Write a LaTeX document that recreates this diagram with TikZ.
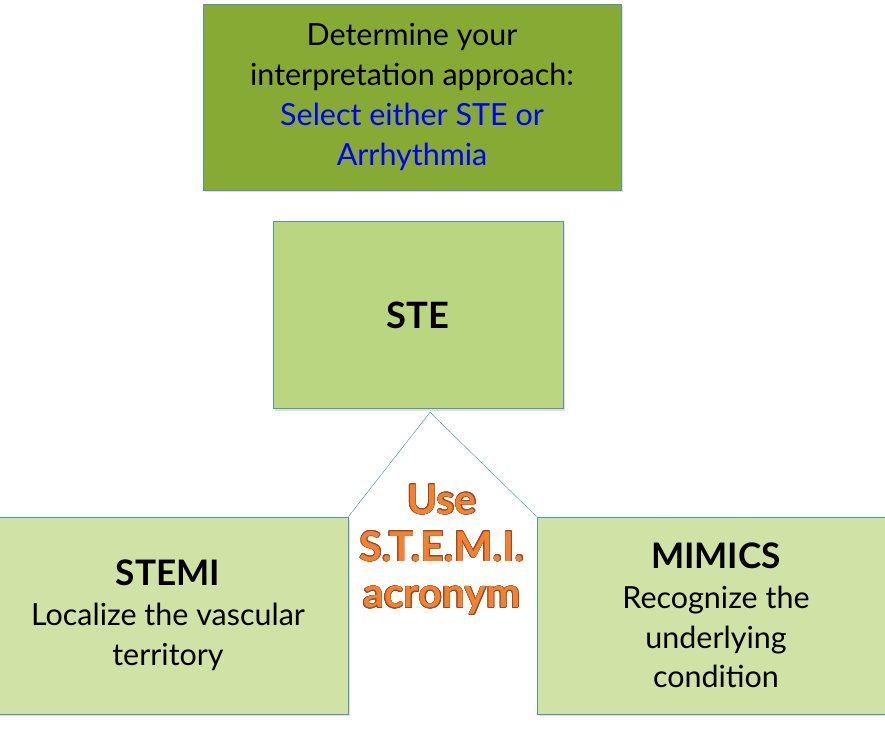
\documentclass[tikz,border=0pt]{standalone}
\usepackage{fontspec}
\setmainfont{Lato}
\usepackage{contour}
\contourlength{0.5pt}
\usetikzlibrary{shadows}
\definecolor{olivebox}{RGB}{134,170,52}
\definecolor{stebox}{RGB}{187,214,128}
\definecolor{palebox}{RGB}{208,226,166}
\definecolor{edgeblue}{RGB}{80,150,175}
\definecolor{acrorange}{RGB}{242,130,50}
\definecolor{acroedge}{RGB}{150,75,35}
\newcommand{\acroline}[1]{\contour{acroedge}{\textcolor{acrorange}{#1}}}
\begin{document}
\begin{tikzpicture}[x=0.03cm, y=-0.03cm,
    box/.style={rectangle, draw=edgeblue, thick, align=center, inner sep=0pt,
        drop shadow={shadow xshift=2pt, shadow yshift=-2pt, opacity=0.25}},
    txt/.style={font=\fontsize{26}{34}\selectfont},
    head/.style={font=\fontsize{30}{34}\selectfont\bfseries}]
        \useasboundingbox (0,0) rectangle (885,733);
        \clip (0,0) rectangle (885,733);
        % --- top choice ---
        \node (detbox) at (412,97) [box, fill=olivebox, minimum width=12.54cm, minimum height=5.58cm, txt]
            {Determine your\\interpretation approach:\\\textcolor{blue}{Select either STE or}\\\textcolor{blue}{Arrhythmia}};
        % --- STE ---
        \node (ste) at (418,315) [box, fill=stebox, minimum width=8.7cm, minimum height=5.61cm, font=\fontsize{31}{34}\selectfont\bfseries] {STE};
        \coordinate (apex) at ([xshift=0.36cm, yshift=-0.1cm]ste.south);
        % --- branches ---
        \node (stemi) at (168,615.5) [box, fill=palebox, minimum width=10.8cm, minimum height=5.91cm, txt]
            {{\bfseries\fontsize{30}{34}\selectfont STEMI}\\Localize the vascular\\territory};
        \node (mimics) at (716,615.5) [box, fill=palebox, minimum width=10.74cm, minimum height=5.91cm, txt]
            {{\bfseries\fontsize{30}{34}\selectfont MIMICS}\\Recognize the\\underlying\\condition};
        \node (acro) at (442,550) [align=center, font=\fontsize{35}{40}\selectfont\bfseries]
            {\acroline{Use}\\\acroline{S.T.E.M.I.}\\\acroline{acronym}};
        \draw[edgeblue] (apex) -- (stemi.north east);
        \draw[edgeblue] (apex) -- (mimics.north west);
\end{tikzpicture}
\end{document}
